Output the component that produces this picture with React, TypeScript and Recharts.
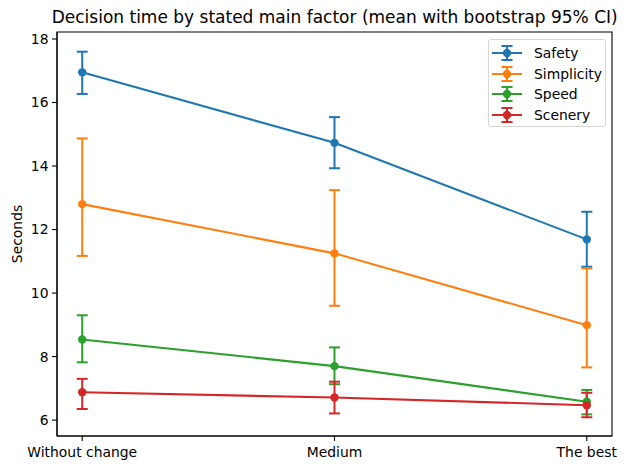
import React from 'react';
import { LineChart, Line, XAxis, YAxis, ErrorBar, ReferenceArea } from 'recharts';

const categories = ['Without change', 'Medium', 'The best'];

const safetyMean = [16.95, 14.73, 11.69];
const safetyLow = [16.27, 13.93, 10.83];
const safetyHigh = [17.6, 15.54, 12.56];

const simplicityMean = [12.8, 11.25, 8.99];
const simplicityLow = [11.17, 9.6, 7.66];
const simplicityHigh = [14.87, 13.24, 10.78];

const speedMean = [8.54, 7.7, 6.58];
const speedLow = [7.82, 7.13, 6.18];
const speedHigh = [9.3, 8.29, 6.95];

const sceneryMean = [6.88, 6.71, 6.47];
const sceneryLow = [6.35, 6.21, 6.09];
const sceneryHigh = [7.3, 7.21, 6.86];

const yTicks = [6, 8, 10, 12, 14, 16, 18];

const SERIES = [
  { key: 'safety', name: 'Safety', color: '#1f77b4', mean: safetyMean, low: safetyLow, high: safetyHigh },
  { key: 'simplicity', name: 'Simplicity', color: '#ff7f0e', mean: simplicityMean, low: simplicityLow, high: simplicityHigh },
  { key: 'speed', name: 'Speed', color: '#2ca02c', mean: speedMean, low: speedLow, high: speedHigh },
  { key: 'scenery', name: 'Scenery', color: '#d62728', mean: sceneryMean, low: sceneryLow, high: sceneryHigh },
];

const data = categories.map((cat, i) => {
  const row: any = { x: i, cat };
  SERIES.forEach(s => {
    row[s.key] = s.mean[i];
    row[s.key + 'Err'] = [s.mean[i] - s.low[i], s.high[i] - s.mean[i]];
  });
  return row;
});

const FONT = '"DejaVu Sans", sans-serif';

function LegendBox() {
  return (
    <div
      style={{
        position: 'absolute',
        left: 488,
        top: 39,
        width: 116,
        height: 86,
        border: '1px solid #d6d6d6',
        borderRadius: 3,
        background: 'rgba(255,255,255,0.8)',
        fontFamily: FONT,
        fontSize: 13.9,
        color: '#000',
      }}
    >
      {SERIES.map((s, i) => (
        <div key={s.key} style={{ position: 'absolute', left: 3, top: 4 + i * 20.6, height: 18, display: 'flex', alignItems: 'center' }}>
          <svg width={30} height={18}>
            <line x1={0} x2={30} y1={9} y2={9} stroke={s.color} strokeWidth={2} />
            <line x1={15} x2={15} y1={2} y2={16} stroke={s.color} strokeWidth={2} />
            <line x1={9.5} x2={20.5} y1={2} y2={2} stroke={s.color} strokeWidth={2} />
            <line x1={9.5} x2={20.5} y1={16} y2={16} stroke={s.color} strokeWidth={2} />
            <circle cx={15} cy={9} r={4.2} fill={s.color} />
          </svg>
          <span style={{ marginLeft: 12, lineHeight: '18px' }}>{s.name}</span>
        </div>
      ))}
    </div>
  );
}

export default function App() {
  return (
    <div style={{ position: 'absolute', left: 0, top: 0, width: 627, height: 470, background: '#fff' }}>
      <LineChart width={627} height={470} data={data} margin={{ top: 32, right: 15, bottom: 4, left: 0 }}>
        <ReferenceArea x1={-0.1} x2={2.1} y1={5.5} y2={18.22} fill="none" stroke="#000" strokeWidth={1.1} />
        <XAxis
          dataKey="x"
          type="number"
          domain={[-0.1, 2.1]}
          ticks={[0, 1, 2]}
          tickFormatter={(v: number) => categories[v]}
          height={30}
          tickSize={5}
          tickMargin={6}
          stroke="#000"
          tick={{ fill: '#000', fontSize: 13.9, fontFamily: FONT }}
          axisLine={{ stroke: '#000', strokeWidth: 1.1 }}
          tickLine={{ stroke: '#000', strokeWidth: 1.1 }}
          allowDataOverflow
          interval={0}
        />
        <YAxis
          type="number"
          domain={[5.5, 18.22]}
          ticks={yTicks}
          width={57}
          tickSize={5}
          tickMargin={3.5}
          stroke="#000"
          tick={{ fill: '#000', fontSize: 13.9, fontFamily: FONT }}
          axisLine={{ stroke: '#000', strokeWidth: 1.1 }}
          tickLine={{ stroke: '#000', strokeWidth: 1.1 }}
          allowDataOverflow
          interval={0}
        />
        {SERIES.map(s => (
          <Line
            key={s.key}
            dataKey={s.key}
            name={s.name}
            stroke={s.color}
            strokeWidth={2.08}
            dot={{ r: 4.2, fill: s.color, stroke: s.color, strokeWidth: 0 }}
            activeDot={false}
            isAnimationActive={false}
          >
            <ErrorBar dataKey={s.key + 'Err'} direction="y" width={5.5} stroke={s.color} strokeWidth={2} />
          </Line>
        ))}
      </LineChart>
      <svg width={627} height={470} style={{ position: 'absolute', left: 0, top: 0, pointerEvents: 'none' }}>
        <text x={334.7} y={17} textAnchor="middle" dominantBaseline="central" fontFamily={FONT} fontSize={17} fill="#000">
          Decision time by stated main factor (mean with bootstrap 95% CI)
        </text>
        <text
          x={17}
          y={234}
          transform="rotate(-90 17 234)"
          textAnchor="middle"
          dominantBaseline="central"
          fontFamily={FONT}
          fontSize={13.9}
          fill="#000"
        >
          Seconds
        </text>
      </svg>
      <LegendBox />
    </div>
  );
}
